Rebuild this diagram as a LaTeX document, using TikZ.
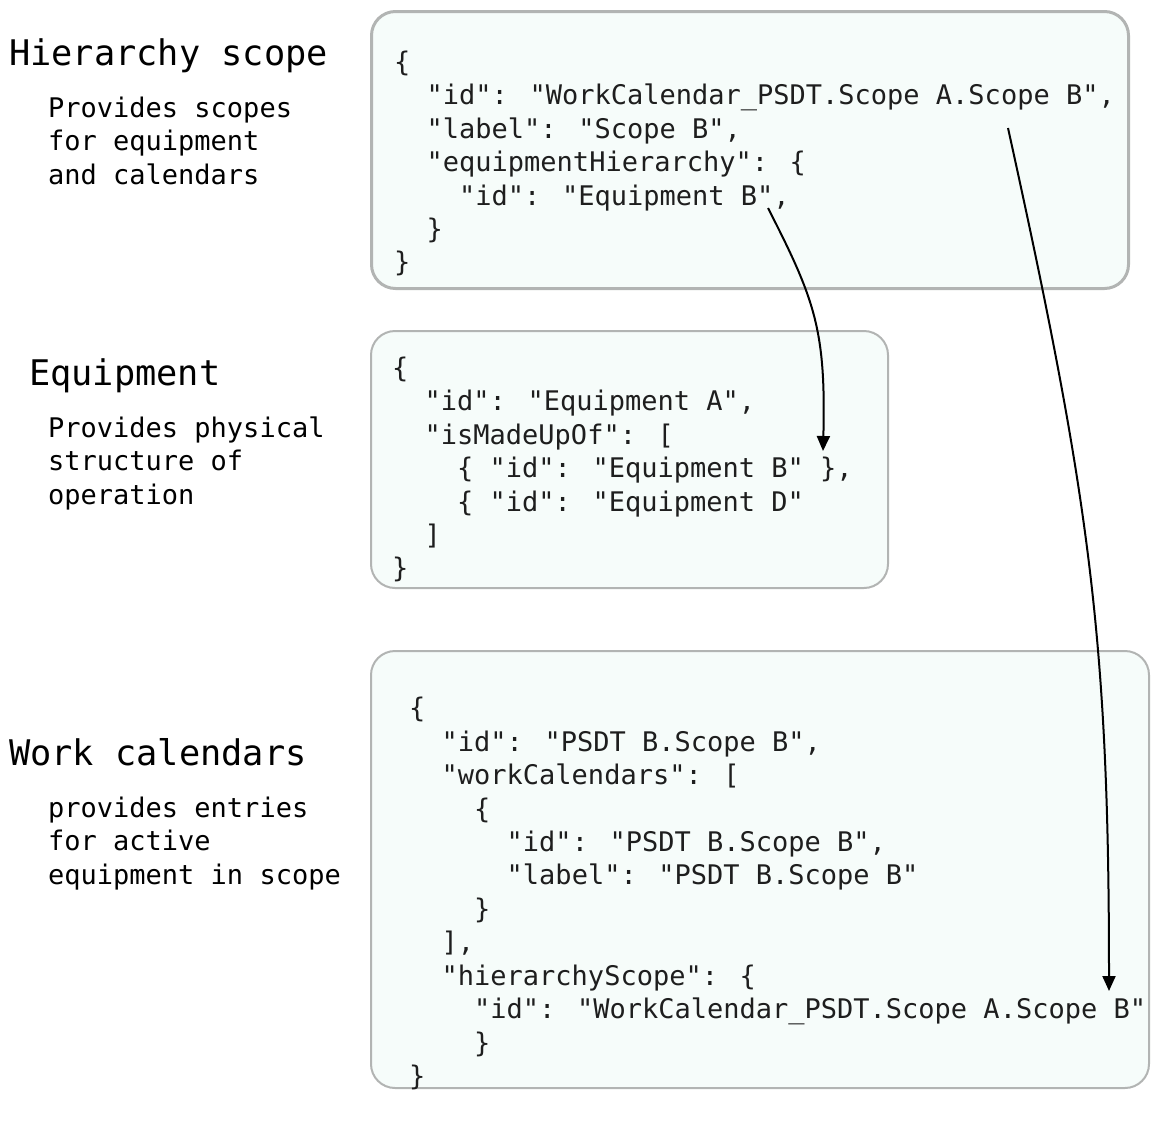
\documentclass[tikz,border=0pt]{standalone}
\usepackage{fontspec}
\usepackage{tikz}
\usetikzlibrary{arrows.meta,positioning,calc}
\newfontfamily\codefont{DejaVu Sans Mono}
\definecolor{boxFill}{RGB}{246,252,250}
\definecolor{boxEdge}{RGB}{178,180,179}
\definecolor{codeInk}{RGB}{30,30,30}
\newcommand{\jtab}{\hphantom{xx}}
\newcommand{\jtop}{\rule{0pt}{24pt}}
\tikzset{
	jbox/.style={
		draw=boxEdge,
		fill=boxFill,
		rounded corners=24pt,
		line width=2pt,
		inner sep=0pt
	},
	jtext/.style={
		anchor=north west,
		align=left,
		inner sep=0pt,
		text=codeInk,
		font=\codefont\fontsize{27}{33.45}\selectfont
	},
	head/.style={
		anchor=base west,
		inner sep=0pt,
		font=\codefont\fontsize{35.3}{40}\selectfont
	},
	desc/.style={
		anchor=north west,
		align=left,
		inner sep=0pt,
		font=\codefont\fontsize{27}{33.45}\selectfont
	},
	link/.style={-{Triangle[length=15pt,width=13pt]}, line width=2pt, black}
}

\begin{document}
\begin{tikzpicture}[x=1pt, y=-1pt]
		\useasboundingbox (0,0) rectangle (1160,1136);
		% left column
		\node[head] (scopeHead) at (9,65) {Hierarchy scope};
		\node[desc] (scopeDesc) at (48,93) {\jtop Provides scopes\\for equipment\\and calendars};
		\node[head] (eqHead) at (29,385) {Equipment};
		\node[desc] (eqDesc) at (48,413) {\jtop Provides physical\\structure of\\operation};
		\node[head] (calHead) at (9,765) {Work calendars};
		\node[desc] (calDesc) at (48,793) {\jtop provides entries\\for active\\equipment in scope};
		% json boxes
		\node[jbox, line width=3pt, minimum width=757pt, minimum height=277pt] (scopeBox) at (750,150) {};
		\node[jbox, minimum width=517pt, minimum height=257pt] (eqBox) at (629.5,459.5) {};
		\node[jbox, minimum width=778pt, minimum height=437pt] (calBox) at (760,869.5) {};
		\node[jtext] (scopeCode) at (394,47) {%
			\jtop\{\\
			\jtab"id": "WorkCalendar\_PSDT.Scope A.Scope B",\\
			\jtab"label": "Scope B",\\
			\jtab"equipmentHierarchy": \{\\
			\jtab\jtab"id": "Equipment B",\\
			\jtab\}\\
			\}};
		\node[jtext] (eqCode) at (392,353) {%
			\jtop\{\\
			\jtab"id": "Equipment A",\\
			\jtab"isMadeUpOf": [\\
			\jtab\jtab\{ "id": "Equipment B" \},\\
			\jtab\jtab\{ "id": "Equipment D"\\
			\jtab]\\
			\}};
		\node[jtext] (calCode) at (409,693.5) {%
			\jtop\{\\
			\jtab"id": "PSDT B.Scope B",\\
			\jtab"workCalendars": [\\
			\jtab\jtab\{\\
			\jtab\jtab\jtab"id": "PSDT B.Scope B",\\
			\jtab\jtab\jtab"label": "PSDT B.Scope B"\\
			\jtab\jtab\}\\
			\jtab],\\
			\jtab"hierarchyScope": \{\\
			\jtab\jtab"id": "WorkCalendar\_PSDT.Scope A.Scope B"\\
			\jtab\jtab\}\\
			\}};
		% references
		\coordinate (eqRef) at (768,208);
		\coordinate (eqTarget) at (823,451);
		\coordinate (scopeRef) at (1008,128);
		\coordinate (scopeTarget) at (1109,991);
		\draw[link] (eqRef) .. controls (815,300) and (826,330) .. (eqTarget);
		\draw[link] (scopeRef) .. controls (1090,500) and (1109,640) .. (scopeTarget);
	\end{tikzpicture}
\end{document}
